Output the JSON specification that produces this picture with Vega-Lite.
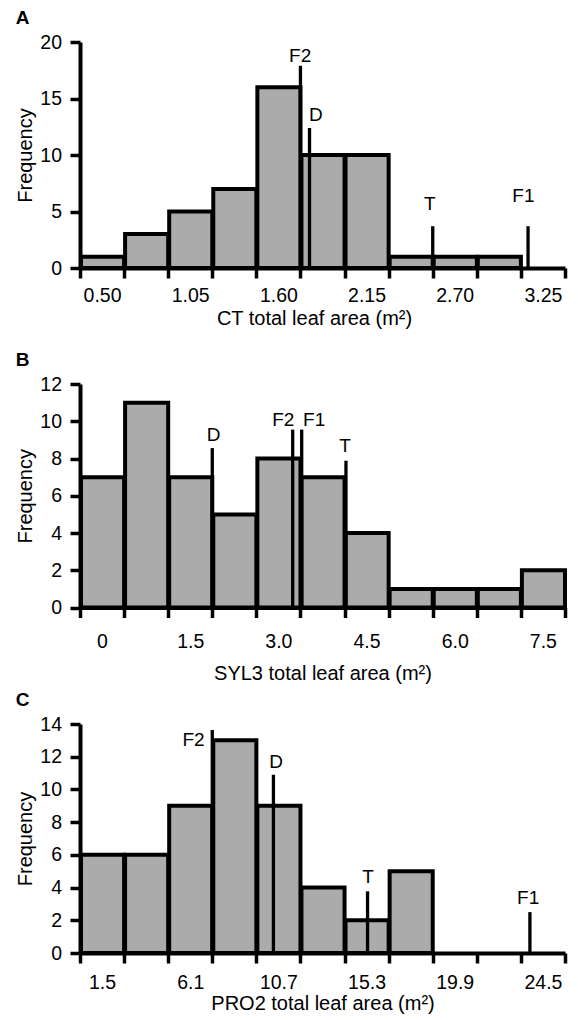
{
  "$schema": "https://vega.github.io/schema/vega-lite/v6.json",
  "padding": {"left": 15, "top": 8, "right": 5, "bottom": 3},
  "bounds": "flush",
  "spacing": 116,
  "config": {
    "view": {"stroke": null},
    "font": "Liberation Sans",
    "axis": {
      "labelFont": "Liberation Sans",
      "titleFont": "Liberation Sans",
      "labelFontSize": 19.5,
      "titleFontSize": 20,
      "titleFontWeight": "normal",
      "labelColor": "black",
      "titleColor": "black",
      "domainColor": "black",
      "tickColor": "black",
      "grid": false,
      "labelOverlap": false,
      "labelFlush": false,
      "labelBound": false,
      "zindex": 1
    },
    "title": {"font": "Liberation Sans", "fontSize": 19, "fontWeight": "bold", "anchor": "start", "frame": "bounds", "color": "black"}
  },
  "datasets": {
    "barsA": [
      {"start": 0.3625, "end": 0.6375, "count": 1},
      {"start": 0.6375, "end": 0.9125, "count": 3},
      {"start": 0.9125, "end": 1.1875, "count": 5},
      {"start": 1.1875, "end": 1.4625, "count": 7},
      {"start": 1.4625, "end": 1.7375, "count": 16},
      {"start": 1.7375, "end": 2.0125, "count": 10},
      {"start": 2.0125, "end": 2.2875, "count": 10},
      {"start": 2.2875, "end": 2.5625, "count": 1},
      {"start": 2.5625, "end": 2.8375, "count": 1},
      {"start": 2.8375, "end": 3.1125, "count": 1}
    ],
    "barsB": [
      {"start": -0.375, "end": 0.375, "count": 7},
      {"start": 0.375, "end": 1.125, "count": 11},
      {"start": 1.125, "end": 1.875, "count": 7},
      {"start": 1.875, "end": 2.625, "count": 5},
      {"start": 2.625, "end": 3.375, "count": 8},
      {"start": 3.375, "end": 4.125, "count": 7},
      {"start": 4.125, "end": 4.875, "count": 4},
      {"start": 4.875, "end": 5.625, "count": 1},
      {"start": 5.625, "end": 6.375, "count": 1},
      {"start": 6.375, "end": 7.125, "count": 1},
      {"start": 7.125, "end": 7.875, "count": 2}
    ],
    "barsC": [
      {"start": 0.35, "end": 2.65, "count": 6},
      {"start": 2.65, "end": 4.95, "count": 6},
      {"start": 4.95, "end": 7.25, "count": 9},
      {"start": 7.25, "end": 9.55, "count": 13},
      {"start": 9.55, "end": 11.85, "count": 9},
      {"start": 11.85, "end": 14.15, "count": 4},
      {"start": 14.15, "end": 16.45, "count": 2},
      {"start": 16.45, "end": 18.75, "count": 5}
    ],
    "markA": [
      {"name": "F2", "value": 1.7375, "top": 17.9, "lx": 1.736, "ly": 18.8},
      {"name": "D", "value": 1.794, "top": 12.4, "lx": 1.833, "ly": 13.5},
      {"name": "T", "value": 2.5625, "top": 3.7, "lx": 2.544, "ly": 5.66},
      {"name": "F1", "value": 3.157, "top": 3.7, "lx": 3.128, "ly": 6.4}
    ],
    "markB": [
      {"name": "D", "value": 1.875, "top": 8.56, "lx": 1.898, "ly": 9.26},
      {"name": "F2", "value": 3.243, "top": 9.55, "lx": 3.083, "ly": 10.09},
      {"name": "F1", "value": 3.396, "top": 9.55, "lx": 3.608, "ly": 10.09},
      {"name": "T", "value": 4.149, "top": 7.88, "lx": 4.135, "ly": 8.68}
    ],
    "markC": [
      {"name": "F2", "value": 7.25, "top": 13.63, "lx": 6.27, "ly": 13.02},
      {"name": "D", "value": 10.44, "top": 10.89, "lx": 10.58, "ly": 11.68},
      {"name": "T", "value": 15.35, "top": 3.77, "lx": 15.38, "ly": 4.65},
      {"name": "F1", "value": 23.82, "top": 2.5, "lx": 23.73, "ly": 3.34}
    ]
  },
  "vconcat": [
    {
      "title": {"text": "A", "offset": 4.4},
      "width": 485,
      "height": 226,
      "layer": [
        {
          "data": {"name": "barsA"},
          "mark": {"type": "bar", "fill": "#ababab", "stroke": "black", "strokeWidth": 4},
          "encoding": {
            "x": {
              "field": "start", "type": "quantitative", "bin": "binned",
              "scale": {"domain": [0.3625, 3.3875], "nice": false, "zero": false, "padding": 0},
              "axis": {
                "title": "CT total leaf area (m²)",
                "values": [0.3625, 0.6375, 0.9125, 1.1875, 1.4625, 1.7375, 2.0125, 2.2875, 2.5625, 2.8375, 3.1125, 3.3875],
                "labelExpr": "indexof([0.3625,0.9125,1.4625,2.0125,2.5625,3.1125], datum.value) >= 0 ? format(datum.value + 0.1375, '.2f') : ''",
                "labelOffset": 22,
                "tickSize": 10, "tickWidth": 3.5, "domainWidth": 4,
                "labelPadding": 8.7, "titlePadding": 3, "titleX": 234
              }
            },
            "x2": {"field": "end"},
            "y": {
              "field": "count", "type": "quantitative",
              "scale": {"domain": [0, 20], "nice": false, "padding": 0},
              "axis": {"title": "Frequency", "values": [0, 5, 10, 15, 20], "labelOverlap": false, "domainWidth": 4, "tickSize": 10, "tickWidth": 3.5, "labelPadding": 8.5, "titlePadding": 4}
            }
          }
        },
        {
          "data": {"name": "markA"},
          "mark": {"type": "bar", "size": 3.3, "orient": "vertical", "color": "black"},
          "encoding": {
            "x": {"field": "value", "type": "quantitative"},
            "y": {"field": "top", "type": "quantitative", "axis": {"title": "Frequency", "values": [0, 5, 10, 15, 20], "labelOverlap": false, "domainWidth": 4, "tickSize": 10, "tickWidth": 3.5, "labelPadding": 8.5, "titlePadding": 4}}
          }
        },
        {
          "data": {"name": "markA"},
          "mark": {"type": "text", "fontSize": 19, "font": "Liberation Sans", "baseline": "middle", "align": "center", "color": "black"},
          "encoding": {
            "x": {"field": "lx", "type": "quantitative"},
            "y": {"field": "ly", "type": "quantitative", "axis": {"title": "Frequency", "values": [0, 5, 10, 15, 20], "labelOverlap": false, "domainWidth": 4, "tickSize": 10, "tickWidth": 3.5, "labelPadding": 8.5, "titlePadding": 4}},
            "text": {"field": "name"}
          }
        }
      ]
    },
    {
      "title": {"text": "B", "offset": 4.4},
      "width": 485,
      "height": 223.5,
      "layer": [
        {
          "data": {"name": "barsB"},
          "mark": {"type": "bar", "fill": "#ababab", "stroke": "black", "strokeWidth": 4},
          "encoding": {
            "x": {
              "field": "start", "type": "quantitative", "bin": "binned",
              "scale": {"domain": [-0.375, 7.875], "nice": false, "zero": false, "padding": 0},
              "axis": {
                "title": "SYL3 total leaf area (m²)",
                "values": [-0.375, 0.375, 1.125, 1.875, 2.625, 3.375, 4.125, 4.875, 5.625, 6.375, 7.125, 7.875],
                "labelExpr": "indexof([-0.375,1.125,2.625,4.125,5.625,7.125], datum.value) >= 0 ? (datum.value == -0.375 ? '0' : format(datum.value + 0.375, '.1f')) : ''",
                "labelOffset": 22,
                "tickSize": 10, "tickWidth": 3.5, "domainWidth": 4,
                "labelPadding": 15.4, "titlePadding": 12
              }
            },
            "x2": {"field": "end"},
            "y": {
              "field": "count", "type": "quantitative",
              "scale": {"domain": [0, 12], "nice": false, "padding": 0},
              "axis": {"title": "Frequency", "values": [0, 2, 4, 6, 8, 10, 12], "labelOverlap": false, "domainWidth": 4, "tickSize": 10, "tickWidth": 3.5, "labelPadding": 8.5, "titlePadding": 4}
            }
          }
        },
        {
          "data": {"name": "markB"},
          "mark": {"type": "bar", "size": 3.3, "orient": "vertical", "color": "black"},
          "encoding": {
            "x": {"field": "value", "type": "quantitative"},
            "y": {"field": "top", "type": "quantitative", "axis": {"title": "Frequency", "values": [0, 2, 4, 6, 8, 10, 12], "labelOverlap": false, "domainWidth": 4, "tickSize": 10, "tickWidth": 3.5, "labelPadding": 8.5, "titlePadding": 4}}
          }
        },
        {
          "data": {"name": "markB"},
          "mark": {"type": "text", "fontSize": 19, "font": "Liberation Sans", "baseline": "middle", "align": "center", "color": "black"},
          "encoding": {
            "x": {"field": "lx", "type": "quantitative"},
            "y": {"field": "ly", "type": "quantitative", "axis": {"title": "Frequency", "values": [0, 2, 4, 6, 8, 10, 12], "labelOverlap": false, "domainWidth": 4, "tickSize": 10, "tickWidth": 3.5, "labelPadding": 8.5, "titlePadding": 4}},
            "text": {"field": "name"}
          }
        }
      ]
    },
    {
      "title": {"text": "C", "offset": 4.4},
      "width": 485,
      "height": 229,
      "layer": [
        {
          "data": {"name": "barsC"},
          "mark": {"type": "bar", "fill": "#ababab", "stroke": "black", "strokeWidth": 4},
          "encoding": {
            "x": {
              "field": "start", "type": "quantitative", "bin": "binned",
              "scale": {"domain": [0.35, 25.65], "nice": false, "zero": false, "padding": 0},
              "axis": {
                "title": "PRO2 total leaf area (m²)",
                "values": [0.35, 2.65, 4.95, 7.25, 9.55, 11.85, 14.15, 16.45, 18.75, 21.05, 23.35, 25.65],
                "labelExpr": "indexof([0.35,4.95,9.55,14.15,18.75,23.35], datum.value) >= 0 ? format(datum.value + 1.15, '.1f') : ''",
                "labelOffset": 22,
                "tickSize": 10, "tickWidth": 3.5, "domainWidth": 4,
                "labelPadding": 10, "titlePadding": 2
              }
            },
            "x2": {"field": "end"},
            "y": {
              "field": "count", "type": "quantitative",
              "scale": {"domain": [0, 14], "nice": false, "padding": 0},
              "axis": {"title": "Frequency", "values": [0, 2, 4, 6, 8, 10, 12, 14], "labelOverlap": false, "domainWidth": 4, "tickSize": 10, "tickWidth": 3.5, "labelPadding": 8.5, "titlePadding": 4}
            }
          }
        },
        {
          "data": {"name": "markC"},
          "mark": {"type": "bar", "size": 3.3, "orient": "vertical", "color": "black"},
          "encoding": {
            "x": {"field": "value", "type": "quantitative"},
            "y": {"field": "top", "type": "quantitative", "axis": {"title": "Frequency", "values": [0, 2, 4, 6, 8, 10, 12, 14], "labelOverlap": false, "domainWidth": 4, "tickSize": 10, "tickWidth": 3.5, "labelPadding": 8.5, "titlePadding": 4}}
          }
        },
        {
          "data": {"name": "markC"},
          "mark": {"type": "text", "fontSize": 19, "font": "Liberation Sans", "baseline": "middle", "align": "center", "color": "black"},
          "encoding": {
            "x": {"field": "lx", "type": "quantitative"},
            "y": {"field": "ly", "type": "quantitative", "axis": {"title": "Frequency", "values": [0, 2, 4, 6, 8, 10, 12, 14], "labelOverlap": false, "domainWidth": 4, "tickSize": 10, "tickWidth": 3.5, "labelPadding": 8.5, "titlePadding": 4}},
            "text": {"field": "name"}
          }
        }
      ]
    }
  ]
}
